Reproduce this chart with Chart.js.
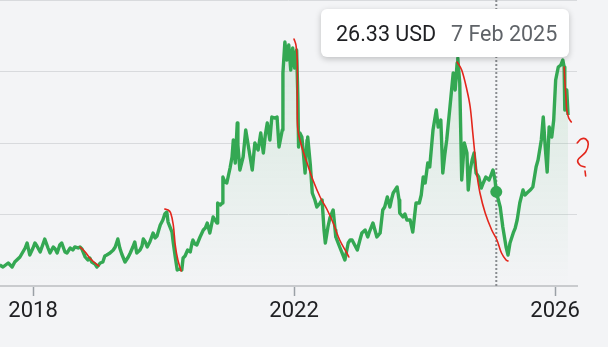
<!DOCTYPE html>
<html><head><meta charset="utf-8">
<script src="https://cdn.jsdelivr.net/npm/chart.js@4.4.1/dist/chart.umd.min.js"></script>
<style>
html,body{margin:0;padding:0;background:#f3f4f6;overflow:hidden}
#wrap{position:relative;width:608px;height:347px}
</style>
</head><body><div id="wrap"><canvas id="c" width="608" height="347"></canvas></div>
<script>
// weekly price (USD), x = decimal year
const years = [2017.49,2017.54,2017.62,2017.68,2017.72,2017.80,2017.88,2017.91,2017.95,2018.00,
2018.03,2018.06,2018.11,2018.18,2018.23,2018.26,2018.31,2018.34,2018.37,2018.41,
2018.44,2018.49,2018.52,2018.57,2018.61,2018.64,2018.69,2018.72,2018.75,2018.80,
2018.84,2018.87,2018.90,2018.95,2018.98,2019.03,2019.07,2019.10,2019.13,2019.18,
2019.23,2019.26,2019.30,2019.33,2019.36,2019.41,2019.46,2019.49,2019.53,2019.56,
2019.59,2019.64,2019.67,2019.69,2019.72,2019.75,2019.79,2019.84,2019.87,2019.90,
2019.95,2019.99,2020.02,2020.05,2020.07,2020.10,2020.13,2020.15,2020.18,2020.21,
2020.25,2020.28,2020.30,2020.33,2020.37,2020.41,2020.44,2020.45,2020.48,2020.51,
2020.56,2020.61,2020.64,2020.67,2020.71,2020.76,2020.79,2020.82,2020.83,2020.87,
2020.90,2020.91,2020.94,2020.97,2020.99,2021.02,2021.05,2021.07,2021.10,2021.13,
2021.14,2021.17,2021.22,2021.26,2021.31,2021.36,2021.40,2021.45,2021.49,2021.53,
2021.56,2021.59,2021.63,2021.66,2021.71,2021.74,2021.77,2021.82,2021.83,2021.86,
2021.89,2021.92,2021.95,2021.98,2022.01,2022.04,2022.06,2022.07,2022.09,2022.12,
2022.14,2022.17,2022.20,2022.21,2022.25,2022.28,2022.32,2022.35,2022.40,2022.43,
2022.46,2022.48,2022.52,2022.55,2022.60,2022.63,2022.64,2022.67,2022.70,2022.75,
2022.78,2022.83,2022.86,2022.89,2022.93,2022.97,2023.01,2023.04,2023.09,2023.13,
2023.16,2023.21,2023.24,2023.27,2023.32,2023.36,2023.39,2023.43,2023.47,2023.50,
2023.52,2023.55,2023.58,2023.61,2023.62,2023.67,2023.70,2023.73,2023.78,2023.82,
2023.87,2023.92,2023.95,2023.98,2024.01,2024.05,2024.08,2024.13,2024.18,2024.21,
2024.25,2024.28,2024.31,2024.34,2024.39,2024.44,2024.47,2024.50,2024.51,2024.54,
2024.57,2024.61,2024.65,2024.67,2024.70,2024.73,2024.76,2024.79,2024.83,2024.87,
2024.90,2024.94,2024.99,2025.02,2025.05,2025.08,2025.10,2025.16,2025.20,2025.25,
2025.28,2025.31,2025.36,2025.39,2025.42,2025.46,2025.51,2025.54,2025.57,2025.62,
2025.66,2025.71,2025.74,2025.79,2025.82,2025.85,2025.88,2025.91,2025.95,2025.98,
2026.01,2026.05,2026.09,2026.12,2026.14,2026.15,2026.18,2026.20];
const prices = [5.87,5.31,6.43,5.31,6.71,8.11,10.63,12.03,8.67,10.63,
12.03,11.19,9.51,13.15,10.63,9.23,10.91,10.35,9.23,11.47,
12.03,9.51,9.23,10.63,10.07,10.91,10.63,10.91,10.35,8.11,
7.27,7.83,6.71,6.15,5.31,6.43,6.71,8.39,8.67,9.23,
10.07,10.91,13.15,10.63,8.95,6.71,8.11,9.23,10.91,12.31,
9.23,10.07,11.19,13.15,12.31,10.91,12.31,14.83,13.43,13.99,
17.06,18.46,20.14,20.70,17.90,16.50,15.10,12.03,8.11,4.48,
4.76,4.48,7.83,8.39,10.07,9.51,12.31,12.87,11.75,11.47,
13.71,15.66,16.22,17.62,14.83,19.30,18.46,17.62,23.22,22.66,
23.22,30.49,29.09,28.81,30.49,33.01,36.08,40.84,34.41,45.59,
39.44,32.45,36.08,43.64,38.04,32.45,40.00,38.04,42.80,37.20,
42.24,45.59,40.84,47.27,46.99,47.27,38.88,43.64,59.58,68.25,
63.22,67.41,60.42,66.57,60.98,66.01,52.03,38.88,42.80,41.68,
38.04,31.61,40.84,41.68,33.85,26.01,24.06,22.10,23.22,24.06,
15.66,12.03,16.50,19.02,21.26,15.66,13.71,12.31,10.91,8.67,
7.27,12.03,12.87,12.87,11.47,10.07,12.87,14.83,15.66,13.71,
15.38,17.62,15.66,13.71,14.83,21.26,22.10,24.90,22.10,24.62,
26.01,26.85,27.69,24.06,20.42,19.30,20.14,18.46,18.46,15.10,
23.22,23.22,25.45,30.49,28.81,34.41,33.29,43.64,49.23,44.48,
46.43,31.61,36.64,40.84,50.07,59.58,54.83,62.38,63.78,56.78,
29.65,40.00,37.20,26.85,32.45,35.24,37.20,31.61,30.49,27.41,
28.81,30.49,29.65,31.05,32.45,29.65,26.33,22.10,16.50,10.91,
8.67,12.03,14.83,16.22,18.46,23.22,26.85,25.45,26.01,26.85,
27.69,33.29,35.24,40.84,47.27,38.88,31.89,44.48,41.68,46.43,
57.62,61.26,61.82,63.22,61.26,49.23,54.83,47.83];

// hand-drawn red annotation strokes
const mark1Years = [2018.72,2018.80,2018.87,2018.95,2019.01];
const mark1Values = [10.91,9.51,7.83,6.43,5.59];
const mark2Years = [2020.02,2020.07,2020.11,2020.15,2020.18,2020.22,2020.27];
const mark2Values = [21.54,21.26,20.42,17.06,11.47,7.27,4.20];
const mark3Years = [2022.00,2022.03,2022.05,2022.05,2022.06,2022.12,2022.20,2022.29,2022.40,2022.51,2022.60,2022.70,2022.81,2022.84];
const mark3Values = [69.09,67.41,63.22,50.07,43.64,38.88,34.41,29.65,24.90,21.26,17.62,12.87,9.23,8.11];
const mark4Years = [2024.50,2024.57,2024.65,2024.70,2024.74,2024.77,2024.80,2024.85,2024.93,2025.03,2025.11,2025.18,2025.25,2025.28];
const mark4Values = [62.66,60.42,54.83,50.07,42.80,37.20,31.61,26.01,20.42,15.66,12.87,9.23,7.27,6.99];
const mark5Years = [2026.14,2026.15,2026.17,2026.18,2026.21,2026.25];
const mark5Values = [61.26,57.62,52.03,49.23,46.99,45.87];
const qYears = [2026.34,2026.40,2026.47,2026.51,2026.47,2026.35,2026.38,2026.46];
const qValues = [40.00,41.12,41.12,39.72,37.48,35.24,33.85,33.29];
const qDotYears = [2026.46,2026.47];
const qDotValues = [32.17,30.77];

// axis ticks
const xTicks = [2018, 2022, 2026];
const yTicks = [0, 20, 40, 60, 80];

// hovered point
const tipYear = 2025.10;
const tipValueText = '26.33 USD';
const tipDateText = '7 Feb 2025';

const FONT = 'Roboto, Arial, sans-serif';
const GREEN = '#34a853';
const RED = '#e3261c';
const tipIndex = years.indexOf(tipYear);

function pts(xs, ys){ const n = Math.min(xs.length, ys.length); const a=[]; for(let i=0;i<n;i++) a.push({x:xs[i], y:ys[i]}); return a; }
function redSet(xs, ys){
  return {data: pts(xs, ys), borderColor: RED, borderWidth: 1.6, pointRadius: 0, tension: 0.35, fill: false, clip: false, order: 0, borderCapStyle:'round', borderJoinStyle:'round'};
}

const tipPlugin = {
  id: 'tip',
  beforeDatasetsDraw(chart){
    const {ctx, chartArea, scales} = chart;
    const px = scales.x.getPixelForValue(tipYear);
    ctx.save();
    ctx.strokeStyle = '#8a8d91';
    ctx.lineWidth = 2;
    ctx.setLineDash([2, 2]);
    ctx.beginPath();
    ctx.moveTo(px, chartArea.top);
    ctx.lineTo(px, chartArea.bottom);
    ctx.stroke();
    ctx.restore();
  },
  afterDraw(chart){
    const ctx = chart.ctx;
    const bx = 321, by = 9, bw = 248, bh = 48, r = 6;
    ctx.save();
    ctx.shadowColor = 'rgba(0,0,0,0.22)';
    ctx.shadowBlur = 6;
    ctx.shadowOffsetY = 2;
    ctx.fillStyle = '#ffffff';
    ctx.beginPath();
    ctx.roundRect(bx, by, bw, bh, r);
    ctx.fill();
    ctx.restore();
    ctx.save();
    ctx.textBaseline = 'alphabetic';
    ctx.font = '21.5px ' + FONT;
    ctx.fillStyle = '#202124';
    ctx.fillText(tipValueText, 336, 41);
    ctx.fillStyle = '#5f6368';
    ctx.fillText(tipDateText, 451, 41);
    ctx.restore();
  }
};

new Chart(document.getElementById('c'), {
  type: 'line',
  data: {
    datasets: [
      redSet(mark1Years, mark1Values),
      redSet(mark2Years, mark2Values),
      redSet(mark3Years, mark3Values),
      redSet(mark4Years, mark4Values),
      redSet(mark5Years, mark5Values),
      redSet(qYears, qValues),
      redSet(qDotYears, qDotValues),
      {
        data: pts(years, prices),
        borderColor: GREEN,
        borderWidth: 3.4,
        tension: 0,
        borderJoinStyle: 'round',
        fill: 'origin',
        backgroundColor: (c) => {
          const ch = c.chart; const a = ch.chartArea;
          if (!a) return 'rgba(52,168,83,0.06)';
          const g = ch.ctx.createLinearGradient(0, a.top, 0, a.bottom);
          g.addColorStop(0, 'rgba(52,168,83,0.16)');
          g.addColorStop(1, 'rgba(52,168,83,0.0)');
          return g;
        },
        pointRadius: (c) => c.dataIndex === tipIndex ? 6 : 0,
        pointBackgroundColor: GREEN,
        pointBorderWidth: 0,
        order: 1
      }
    ]
  },
  options: {
    responsive: false,
    devicePixelRatio: 1,
    animation: false,
    events: [],
    layout: {padding: {left: 0, right: 31, top: 0, bottom: 0}},
    plugins: {legend: {display: false}, tooltip: {enabled: false}},
    scales: {
      x: {
        type: 'linear',
        min: 2017.494,
        max: 2026.337,
        afterBuildTicks: (s) => { s.ticks = xTicks.map(v => ({value: v})); },
        afterFit: (s) => { s.height = 61; },
        ticks: {
          font: {family: FONT, size: 22},
          color: '#202124',
          padding: 2,
          maxRotation: 0,
          autoSkip: false,
          callback: (v) => String(v)
        },
        grid: {drawOnChartArea: false, drawTicks: true, tickLength: 10, tickColor: '#9aa0a6', tickWidth: 1.5},
        border: {display: true, color: '#c9cbce', width: 2}
      },
      y: {
        min: 0,
        max: 80,
        afterBuildTicks: (s) => { s.ticks = yTicks.map(v => ({value: v})); },
        ticks: {display: false},
        grid: {color: '#d8dadd', lineWidth: 1, drawTicks: false},
        border: {display: false}
      }
    }
  },
  plugins: [tipPlugin]
});
</script>
</body></html>
